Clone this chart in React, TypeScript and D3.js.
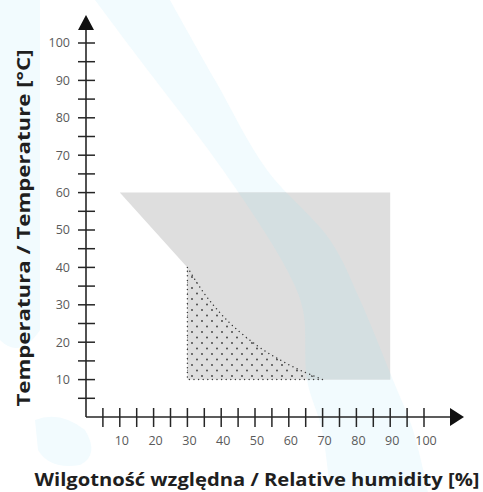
import React from "react";
import * as d3 from "d3";

const xTicks = d3.range(5, 101, 5);
const yTicks = d3.range(5, 101, 5);
const xLabels = [10, 20, 30, 40, 50, 60, 70, 80, 90, 100];
const yLabels = [10, 20, 30, 40, 50, 60, 70, 80, 90, 100];

// Gray operating region (humidity %, temperature °C)
const grayRegion: [number, number][] = [
  [10, 60], [90, 60], [90, 10], [30, 10], [30, 40],
];
// Dotted region boundary curve (from top-left to bottom-right)
const dottedCurve: [number, number][] = [
  [30, 40], [35, 33], [40, 27.5], [50, 19.5], [60, 14], [70, 10],
];

const xTitle = "Wilgotność względna / Relative humidity [%]";
const yTitle = "Temperatura / Temperature [°C]";

// decorative background watermark outline (pixels)
const bandLeft: [number, number][] = [[95, 0], [140, 60], [223, 170], [287, 270], [303, 310], [307, 380], [322, 430], [330, 492]];
const bandRight: [number, number][] = [[170, 0], [215, 80], [267, 170], [330, 240], [360, 300], [393, 380], [413, 430], [428, 492]];

export default function App() {
  const W = 483, H = 492;
  const x = d3.scaleLinear().domain([0, 100]).range([86, 424]);
  const y = d3.scaleLinear().domain([0, 100]).range([417, 43]);
  const x0 = x(0), y0 = y(0);

  const grayPath = d3.line<[number, number]>().x(d => x(d[0])).y(d => y(d[1]))(grayRegion) + "Z";
  const curveGen = d3.line<[number, number]>().x(d => x(d[0])).y(d => y(d[1])).curve(d3.curveMonotoneX);
  const curveD = curveGen(dottedCurve)!;
  const dottedPath = curveD + `L${x(30)},${y(10)}Z`;

  const smooth = d3.line<[number, number]>().curve(d3.curveCatmullRom);
  const bandPath = smooth(bandRight)! + "L" + smooth([...bandLeft].reverse())!.slice(1) + "Z";

  const font = "'Open Sans', 'DejaVu Sans', sans-serif";
  const axisColor = "#262626";

  return (
    <svg width={W} height={H} style={{ position: "absolute", left: 0, top: 0, background: "#fff" }}>
      <defs>
        <pattern id="dots" width={10} height={11} patternUnits="userSpaceOnUse">
          <circle cx={2} cy={2} r={0.9} fill="#3a3a3a" />
          <circle cx={7} cy={7.5} r={0.9} fill="#3a3a3a" />
        </pattern>
        <clipPath id="grayClip">
          <path d={grayPath} />
        </clipPath>
      </defs>
      {/* faint watermark */}
      <g fill="#f2fbfe">
        <path d="M0,0 L40,0 L40,330 Q20,360 0,340 Z" />
        <path d="M35,420 Q60,410 85,430 Q100,455 80,465 Q50,470 38,450 Z" />
        <path d={bandPath} />
      </g>
      <path d={grayPath} fill="#dedede" />
      <path d={bandPath} fill="#d4dfe1" clipPath="url(#grayClip)" />
      <path d={dottedPath} fill="url(#dots)" stroke="#3a3a3a" strokeWidth={1.5} strokeDasharray="0 4.6" strokeLinecap="round" />

      {/* axes */}
      <line x1={x0} y1={y0} x2={x0} y2={28} stroke={axisColor} strokeWidth={1.6} />
      <line x1={x0} y1={y0} x2={452} y2={y0} stroke={axisColor} strokeWidth={1.6} />
      <path d={`M${x0},15 L${x0 - 8},30 L${x0 + 8},30 Z`} fill="#111" />
      <path d={`M464,${y0} L450,${y0 - 9} L450,${y0 + 9} Z`} fill="#111" />
      {yTicks.map(t => (
        <line key={"yt" + t} x1={x0 - 8} x2={x0 + 9} y1={y(t)} y2={y(t)} stroke={axisColor} strokeWidth={1.5} />
      ))}
      {xTicks.map(t => (
        <line key={"xt" + t} x1={x(t)} x2={x(t)} y1={y0 - 9} y2={y0 + 10} stroke={axisColor} strokeWidth={1.5} />
      ))}
      {yLabels.map(t => (
        <text key={"yl" + t} x={70} y={y(t)} dy="0.35em" textAnchor="end" fontSize={12.5} fill="#5a5a5a" fontFamily={font}>{t}</text>
      ))}
      {xLabels.map(t => (
        <text key={"xl" + t} x={x(t) + 2} y={441} dy="0.35em" textAnchor="middle" fontSize={12.5} fill="#5a5a5a" fontFamily={font}>{t}</text>
      ))}
      <text x={257} y={486} textAnchor="middle" fontSize={18} fontWeight="bold" fill="#1f1f1f" fontFamily={font}
        textLength={445} lengthAdjust="spacingAndGlyphs">{xTitle}</text>
      <text transform={`translate(30,228) rotate(-90)`} textAnchor="middle" fontSize={18} fontWeight="bold" fill="#1f1f1f" fontFamily={font}
        textLength={357} lengthAdjust="spacingAndGlyphs">{yTitle}</text>
    </svg>
  );
}
